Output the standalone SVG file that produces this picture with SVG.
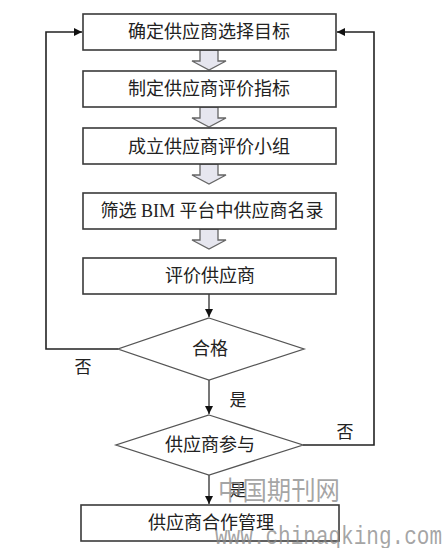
<svg xmlns="http://www.w3.org/2000/svg" width="445" height="548" viewBox="0 0 445 548">
<style>
.box{fill:#fff;stroke:#3a3a3a;stroke-width:1.6}
.dia{fill:#fff;stroke:#555;stroke-width:1.3}
.t{font-family:"Liberation Serif","Noto Sans CJK SC",serif;font-size:18px;fill:#222;text-anchor:middle;dominant-baseline:central}
.lbl{font-family:"Liberation Serif","Noto Sans CJK SC",serif;font-size:17px;fill:#222;text-anchor:middle;dominant-baseline:central}
.ln{fill:none;stroke:#222;stroke-width:1.6}
.gl{fill:none;stroke:#555;stroke-width:1.6}
.hol{fill:#e6e6ef;stroke:#666;stroke-width:1.3}
.wm{font-family:"Noto Sans CJK SC",sans-serif;font-size:26px;fill:#888;fill-opacity:0.75}
.wm2{font-family:"Liberation Mono",monospace;font-size:25px;fill:#888;fill-opacity:0.75}
</style>
<defs>
<marker id="ah" viewBox="0 0 10 10" refX="10" refY="5" markerWidth="8" markerHeight="8" markerUnits="userSpaceOnUse" orient="auto">
<path d="M0,0 L10,5 L0,10 z" fill="#111"/>
</marker>
<path id="hollow" d="M-9,0 H9 V11 H17 L0,20 L-17,11 H-9 Z"/>
</defs>
<g id="connectors">
<use href="#hollow" x="209" y="50" class="hol"/>
<use href="#hollow" x="209" y="107" class="hol"/>
<use href="#hollow" x="209" y="164" class="hol"/>
<use href="#hollow" x="209" y="229" class="hol"/>
<path class="gl" d="M209,294 V317" marker-end="url(#ah)"/>
<path class="gl" d="M209,380 V414" marker-end="url(#ah)"/>
<path class="gl" d="M209,475 V504" marker-end="url(#ah)"/>
<path class="ln" d="M118,349 H46 V32 H82" marker-end="url(#ah)"/>
<path class="ln" d="M303,445 H374 V32 H337" marker-end="url(#ah)"/>
<text class="lbl" x="83" y="367">否</text>
<text class="lbl" x="238" y="400">是</text>
<text class="lbl" x="345" y="432">否</text>
<text class="lbl" x="238" y="490">是</text>
</g>
<g id="n1"><rect class="box" x="83" y="14" width="253" height="36"/><text class="t" x="209" y="32">确定供应商选择目标</text></g>
<g id="n2"><rect class="box" x="83" y="71" width="253" height="36"/><text class="t" x="209" y="89">制定供应商评价指标</text></g>
<g id="n3"><rect class="box" x="83" y="128" width="253" height="36"/><text class="t" x="209" y="147">成立供应商评价小组</text></g>
<g id="n4"><rect class="box" x="83" y="193" width="253" height="36"/><text class="t" x="212" y="211">筛选 BIM 平台中供应商名录</text></g>
<g id="n5"><rect class="box" x="83" y="258" width="253" height="36"/><text class="t" x="210" y="276">评价供应商</text></g>
<g id="d1"><path class="dia" d="M209,318 L304,349 L209,380 L118,349 Z"/><text class="t" x="210" y="349">合格</text></g>
<g id="d2"><path class="dia" d="M209,415 L303,445 L209,475 L116,445 Z"/><text class="t" x="210" y="445">供应商参与</text></g>
<g id="n6"><rect class="box" x="81" y="505" width="258" height="36"/><text class="t" x="211" y="523">供应商合作管理</text></g>
<text class="wm" x="218" y="500" textLength="122" lengthAdjust="spacingAndGlyphs">中国期刊网</text>
<text class="wm2" x="215" y="544" textLength="227" lengthAdjust="spacingAndGlyphs">www.chinaqking.com</text>
</svg>
